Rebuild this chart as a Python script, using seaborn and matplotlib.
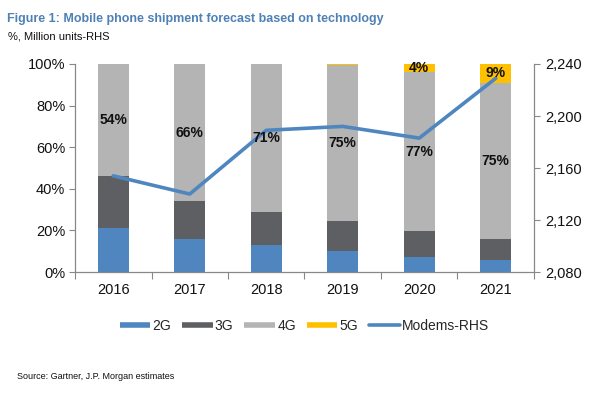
import numpy as np
import pandas as pd
import matplotlib
matplotlib.use("Agg")
import matplotlib.pyplot as plt
import seaborn as sns
from matplotlib.lines import Line2D
from matplotlib.ticker import FixedLocator, FuncFormatter

years = ["2016", "2017", "2018", "2019", "2020", "2021"]
share_2g = [21, 16, 13, 10, 7, 6]
share_3g = [25, 18, 16, 14.5, 12.5, 10]
share_4g = [54, 66, 71, 75, 76.5, 75]
share_5g = [0, 0, 0, 0.5, 4, 9]
label_4g = ["54%", "66%", "71%", "75%", "77%", "75%"]
label_5g = ["", "", "", "", "4%", "9%"]
modems = [2154, 2140, 2189, 2192, 2183, 2229]
left_ticks = [0, 20, 40, 60, 80, 100]
right_ticks = [2080, 2120, 2160, 2200, 2240]

sns.set_theme(style="white")
plt.rcParams["font.family"] = ["Liberation Sans", "DejaVu Sans"]

C2, C3, C4, C5 = "#4f86c0", "#5e5f63", "#b4b4b4", "#ffc000"
LINE = "#4f86c0"

df = pd.DataFrame({"year": years, "g2": share_2g, "g3": share_3g,
                   "g4": share_4g, "g5": share_5g})
b3 = df["g2"]
b4 = df["g2"] + df["g3"]
b5 = b4 + df["g4"]

fig = plt.figure(figsize=(6.05, 3.96), dpi=100)
ax = fig.add_axes([0.124, 0.313, 0.7586, 0.5254])

w = 0.4
sns.barplot(data=df, x="year", y="g2", color=C2, width=w, saturation=1, ax=ax, linewidth=0)
sns.barplot(data=df, x="year", y="g3", bottom=b3, color=C3, width=w, saturation=1, ax=ax, linewidth=0)
sns.barplot(data=df, x="year", y="g4", bottom=b4, color=C4, width=w, saturation=1, ax=ax, linewidth=0)
sns.barplot(data=df, x="year", y="g5", bottom=b5, color=C5, width=w, saturation=1, ax=ax, linewidth=0)

ax.set_xlim(-0.5, len(years) - 0.5)
ax.set_ylim(0, 100)
ax.set_xlabel("")
ax.set_ylabel("")
ax.yaxis.set_major_locator(FixedLocator(left_ticks))
ax.yaxis.set_major_formatter(FuncFormatter(lambda v, p: f"{v:.0f}%"))
ax.xaxis.set_minor_locator(FixedLocator(np.arange(-0.5, len(years), 1.0)))
ax.tick_params(axis="x", which="major", length=0, labelsize=10.5, pad=8, colors="#111")
ax.tick_params(axis="x", which="minor", length=5, color="#888", width=0.8, bottom=True)
ax.tick_params(axis="y", length=4, color="#888", width=0.8, left=True, labelsize=10.5, colors="#111", pad=3)

for s in ["top", "right"]:
    ax.spines[s].set_visible(False)
for s in ["left", "bottom"]:
    ax.spines[s].set_color("#888")
    ax.spines[s].set_linewidth(0.9)

ax2 = ax.twinx()
xpos = np.arange(len(years))
sns.lineplot(x=xpos, y=modems, ax=ax2, color=LINE, linewidth=2.6, legend=False)
ax2.set_ylim(2080, 2240)
ax2.yaxis.set_major_locator(FixedLocator(right_ticks))
ax2.yaxis.set_major_formatter(FuncFormatter(lambda v, p: f"{v:,.0f}"))
ax2.tick_params(axis="y", length=4, color="#888", width=0.8, right=True, labelsize=10.5, colors="#111", pad=4)
ax2.set_xlim(-0.5, len(years) - 0.5)
for s in ["top", "left", "bottom"]:
    ax2.spines[s].set_visible(False)
ax2.spines["right"].set_color("#888")
ax2.spines["right"].set_linewidth(0.9)
ax2.grid(False)
ax.grid(False)

for i in range(len(years)):
    y4 = b4[i] + share_4g[i] / 2
    ax2.text(i, 2080 + y4 * 1.6, label_4g[i], ha="center", va="center",
             fontsize=10, fontweight="bold", color="#111", zorder=5)
    if label_5g[i]:
        y5 = b5[i] + share_5g[i] / 2
        ax2.text(i, 2080 + y5 * 1.6, label_5g[i], ha="center", va="center",
                 fontsize=10, fontweight="bold", color="#111", zorder=5)

handles = [
    Line2D([], [], color=C2, lw=4, solid_capstyle="butt"),
    Line2D([], [], color=C3, lw=4, solid_capstyle="butt"),
    Line2D([], [], color=C4, lw=4, solid_capstyle="butt"),
    Line2D([], [], color=C5, lw=4, solid_capstyle="butt"),
    Line2D([], [], color=LINE, lw=2.6),
]
fig.legend(handles, ["2G", "3G", "4G", "5G", "Modems-RHS"], loc="center",
           bbox_to_anchor=(0.503, 0.178), ncol=5, frameon=False,
           handlelength=2.2, handletextpad=0.15, columnspacing=0.8, fontsize=10)

fig.text(0.011, 0.952, "Figure 1: Mobile phone shipment forecast based on technology",
         fontsize=9, fontweight="bold", color="#4f81b5", ha="left", va="center")
fig.text(0.013, 0.908, "%, Million units-RHS", fontsize=8, color="#111", ha="left", va="center")
fig.text(0.028, 0.048, "Source: Gartner, J.P. Morgan estimates", fontsize=6.5, color="#111",
         ha="left", va="center")

fig.savefig("out.png", dpi=100)
